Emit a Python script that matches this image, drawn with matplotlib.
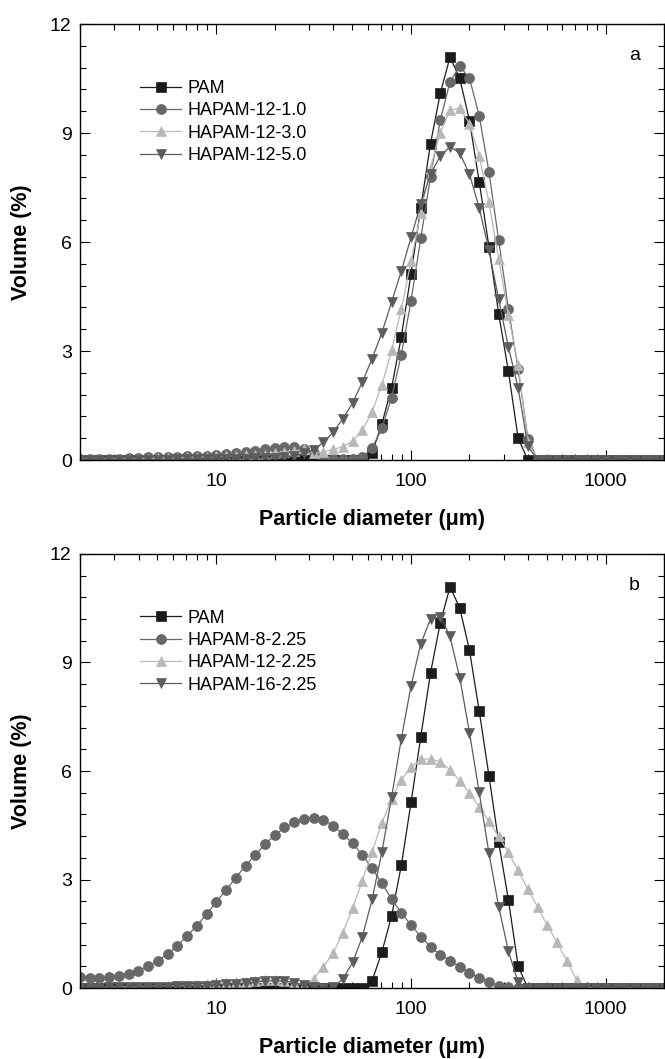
import numpy as np
import matplotlib
matplotlib.use("Agg")
import matplotlib.pyplot as plt
from matplotlib.ticker import FixedLocator, FixedFormatter, LogLocator, MultipleLocator, NullFormatter

plt.rcParams['font.family'] = ['Liberation Sans', 'DejaVu Sans']

# instrument size classes (um), 2 - 2000
diameter = [2.000, 2.244, 2.518, 2.825, 3.170, 3.557, 3.991, 4.477, 5.024, 5.637,
            6.325, 7.096, 7.962, 8.934, 10.024, 11.247, 12.619, 14.159, 15.887, 17.825,
            20.000, 22.440, 25.179, 28.251, 31.698, 35.566, 39.905, 44.774, 50.238, 56.368,
            63.246, 70.963, 79.621, 89.337, 100.237, 112.468, 126.191, 141.589, 158.866, 178.250,
            200.000, 224.404, 251.785, 282.508, 316.979, 355.656, 399.052, 447.744, 502.377, 563.677,
            632.456, 709.627, 796.214, 893.367, 1002.374, 1124.683, 1261.915, 1415.892, 1588.656, 1782.502,
            2000.000]

# volume (%)
pam = [0.0] * 30 + [0.20, 0.99, 1.99, 3.39, 5.13, 6.95, 8.71, 10.09, 11.09, 10.51,
                    9.34, 7.66, 5.87, 4.03, 2.44, 0.60] + [0.0] * 15

hapam_12_10 = [0.02, 0.02, 0.03, 0.03, 0.04, 0.05, 0.06, 0.07, 0.07, 0.08,
               0.09, 0.10, 0.11, 0.12, 0.14, 0.16, 0.19, 0.22, 0.26, 0.30,
               0.34, 0.37, 0.35, 0.31, 0.20, 0.06, 0.03, 0.02, 0.02, 0.09,
               0.32, 0.87, 1.72, 2.90, 4.39, 6.10, 7.80, 9.35, 10.41, 10.84,
               10.51, 9.47, 7.94, 6.05, 4.16, 2.50, 0.59] + [0.0] * 14

hapam_12_30 = [0.02, 0.02, 0.02, 0.03, 0.03, 0.03, 0.04, 0.04, 0.05, 0.05,
               0.06, 0.07, 0.08, 0.09, 0.10, 0.11, 0.12, 0.13, 0.14, 0.15,
               0.18, 0.22, 0.25, 0.30, 0.18, 0.23, 0.29, 0.37, 0.52, 0.82,
               1.33, 2.06, 3.02, 4.16, 5.47, 6.79, 8.05, 9.01, 9.63, 9.68,
               9.26, 8.37, 7.09, 5.54, 3.98, 2.61, 0.50] + [0.0] * 14

hapam_12_50 = [0.01] * 10 + [0.02, 0.02, 0.02, 0.03, 0.03, 0.03, 0.04, 0.04, 0.05, 0.05,
                             0.06, 0.08, 0.12, 0.18, 0.27, 0.50, 0.76, 1.14, 1.57, 2.15,
                             2.79, 3.50, 4.35, 5.20, 6.13, 7.05, 7.87, 8.37, 8.62, 8.45,
                             7.87, 6.94, 5.78, 4.42, 3.11, 1.98, 0.38] + [0.0] * 14

hapam_8_225 = [0.31, 0.28, 0.27, 0.30, 0.34, 0.40, 0.48, 0.61, 0.76, 0.94,
               1.17, 1.44, 1.72, 2.04, 2.38, 2.71, 3.05, 3.38, 3.68, 3.98,
               4.22, 4.44, 4.58, 4.68, 4.71, 4.65, 4.49, 4.25, 4.00, 3.68,
               3.31, 2.90, 2.46, 2.08, 1.74, 1.42, 1.14, 0.92, 0.76, 0.58,
               0.42, 0.28, 0.16, 0.07, 0.02] + [0.0] * 16

hapam_12_225 = [0.02, 0.02, 0.02, 0.03, 0.03, 0.04, 0.04, 0.05, 0.05, 0.06,
                0.07, 0.08, 0.09, 0.11, 0.12, 0.14, 0.16, 0.18, 0.20, 0.21,
                0.22, 0.20, 0.15, 0.08, 0.25, 0.59, 0.96, 1.53, 2.20, 2.97,
                3.77, 4.56, 5.22, 5.76, 6.10, 6.33, 6.33, 6.26, 6.03, 5.73,
                5.39, 5.01, 4.61, 4.19, 3.75, 3.25, 2.73, 2.24, 1.73, 1.26,
                0.75, 0.23, 0.02] + [0.0] * 8

hapam_16_225 = [0.01, 0.01, 0.01, 0.02, 0.02, 0.02, 0.03, 0.03, 0.04, 0.04,
                0.05, 0.05, 0.06, 0.07, 0.08, 0.10, 0.12, 0.14, 0.17, 0.19,
                0.20, 0.19, 0.15, 0.08, 0.03, 0.01, 0.02, 0.25, 0.71, 1.42,
                2.45, 3.75, 5.27, 6.89, 8.36, 9.52, 10.20, 10.27, 9.72, 8.58,
                7.06, 5.41, 3.73, 2.25, 1.02, 0.16] + [0.0] * 15

labels_a = ['PAM', 'HAPAM-12-1.0', 'HAPAM-12-3.0', 'HAPAM-12-5.0']
labels_b = ['PAM', 'HAPAM-8-2.25', 'HAPAM-12-2.25', 'HAPAM-16-2.25']

styles = [('s', '#1c1c1c'), ('o', '#686868'), ('^', '#b8b8b8'), ('v', '#5c5c5c')]


def draw_panel(ax, series, labels, tag):
    for (marker, col), y, lab in zip(styles, series, labels):
        ax.plot(diameter, y, color=col, lw=0.9, marker=marker, ms=7.2,
                mfc=col, mec=col, mew=0.5, label=lab)
    ax.set_xscale('log')
    ax.set_xlim(2, 2000)
    ax.set_ylim(0, 12)
    ax.xaxis.set_major_locator(FixedLocator([10, 100, 1000]))
    ax.xaxis.set_major_formatter(FixedFormatter(['10', '100', '1000']))
    ax.xaxis.set_minor_locator(LogLocator(base=10, subs=np.arange(2, 10)))
    ax.xaxis.set_minor_formatter(NullFormatter())
    ax.yaxis.set_major_locator(MultipleLocator(3))
    ax.yaxis.set_minor_locator(MultipleLocator(0.6))
    ax.tick_params(which='both', direction='in', top=True, right=True, width=0.8)
    ax.tick_params(which='major', length=7.5, labelsize=14)
    ax.tick_params(axis='x', which='major', pad=9)
    ax.tick_params(axis='y', which='major', pad=6)
    ax.tick_params(which='minor', length=4)
    for s in ax.spines.values():
        s.set_linewidth(1.0)
    ax.set_xlabel('Particle diameter (\u03bcm)', fontsize=15.5, fontweight='bold')
    ax.set_ylabel('Volume (%)', fontsize=15.5, fontweight='bold')
    ax.xaxis.set_label_coords(0.5, -0.113)
    ax.yaxis.set_label_coords(-0.082, 0.5)
    ax.text(0.949, 0.928, tag, transform=ax.transAxes, fontsize=14,
            ha='center', va='center')
    ax.legend(loc='upper left', bbox_to_anchor=(0.1026, 0.872), frameon=False,
              fontsize=13, numpoints=1, handlelength=2.3, handletextpad=0.35,
              labelspacing=0.3, borderpad=0, borderaxespad=0, markerscale=1.0)


fig = plt.figure(figsize=(6.65, 10.59), dpi=100)
ax1 = fig.add_axes([0.1203, 0.5656, 0.8785, 0.4117])
ax2 = fig.add_axes([0.1203, 0.0670, 0.8785, 0.4099])

draw_panel(ax1, [pam, hapam_12_10, hapam_12_30, hapam_12_50], labels_a, 'a')
draw_panel(ax2, [pam, hapam_8_225, hapam_12_225, hapam_16_225], labels_b, 'b')

fig.savefig('out.png', dpi=100)
